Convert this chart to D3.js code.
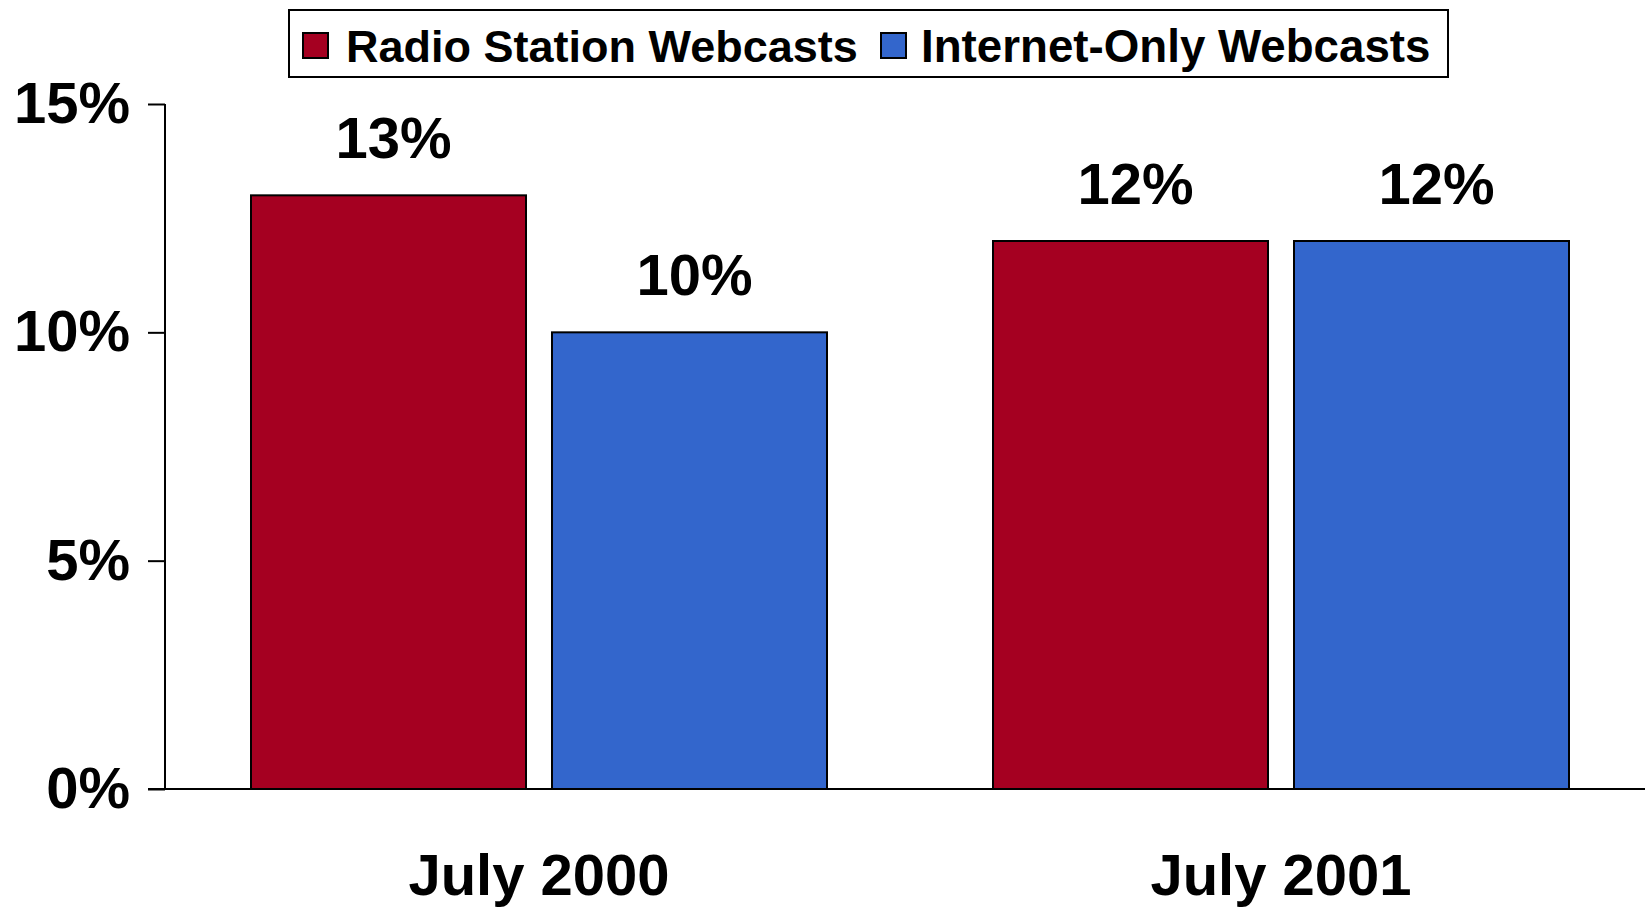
<!DOCTYPE html>
<html>
<head>
<meta charset="utf-8">
<script src="https://cdn.jsdelivr.net/npm/d3@7"></script>
<style>
  html, body { margin: 0; padding: 0; background: #fff; }
  svg { display: block; font-family: "Liberation Sans", Arial, sans-serif; font-weight: bold; }
</style>
</head>
<body>
<svg id="chart" width="1645" height="908"></svg>
<script>
// Share of respondents listening to webcasts
const categories = ["July 2000", "July 2001"];
const seriesNames = ["Radio Station Webcasts", "Internet-Only Webcasts"];
const radioStation = [13, 12];
const internetOnly = [10, 12];
const yTicks = [0, 5, 10, 15];
const colors = ["#A50021", "#3366CC"];

const rows = categories.map((c, i) => ({ category: c, values: [radioStation[i], internetOnly[i]] }));

const svg = d3.select("#chart");

const y = d3.scaleLinear().domain([0, 15]).range([789, 104]);
const x0 = d3.scaleBand().domain(categories).range([168, 1652]).paddingInner(0).paddingOuter(0);
const x1 = d3.scaleBand().domain(seriesNames).range([83, 659]).paddingInner(26 / 301).paddingOuter(0);

// Bars
const groups = svg.append("g").selectAll("g")
  .data(rows).join("g")
  .attr("transform", d => `translate(${x0(d.category)},0)`);

groups.selectAll("rect")
  .data(d => d.values.map((v, i) => ({ series: seriesNames[i], value: v, i })))
  .join("rect")
  .attr("x", d => x1(d.series))
  .attr("width", x1.bandwidth())
  .attr("y", d => y(d.value))
  .attr("height", d => y(0) - y(d.value))
  .attr("fill", d => colors[d.i])
  .attr("stroke", "#000")
  .attr("stroke-width", 2);

// Value labels above each bar
groups.selectAll("text.value")
  .data(d => d.values.map((v, i) => ({ series: seriesNames[i], value: v })))
  .join("text")
  .attr("class", "value")
  .attr("x", d => x1(d.series) + x1.bandwidth() / 2 + 5)
  .attr("y", d => y(d.value) - 37)
  .attr("text-anchor", "middle")
  .attr("font-size", 58)
  .attr("fill", "#000")
  .text(d => d.value + "%");

// Y axis
const yAxis = d3.axisLeft(y).tickValues(yTicks).tickFormat(d => d + "%").tickSize(17).tickPadding(18);
const gy = svg.append("g").attr("transform", "translate(165,0)").call(yAxis);
gy.select(".domain").attr("stroke", "#000").attr("stroke-width", 2).attr("d", `M0,${y(15)}V${y(0)}`);
gy.selectAll(".tick line").attr("stroke", "#000").attr("stroke-width", 2);
gy.selectAll(".tick text")
  .attr("font-size", 58).attr("font-family", "Liberation Sans, Arial, sans-serif")
  .attr("font-weight", "bold").attr("fill", "#000").attr("dy", "0.32em");

// X axis baseline and category labels
const xAxis = d3.axisBottom(x0).tickSize(0).tickPadding(65);
const gx = svg.append("g").attr("transform", `translate(0,${y(0)})`).call(xAxis);
gx.select(".domain").attr("stroke", "#000").attr("stroke-width", 2).attr("d", "M148,0H1645");
gx.selectAll(".tick text")
  .attr("font-size", 58).attr("font-family", "Liberation Sans, Arial, sans-serif")
  .attr("font-weight", "bold").attr("fill", "#000").attr("dy", "0.71em");

// Legend
const legend = svg.append("g");
legend.append("rect")
  .attr("x", 289).attr("y", 10).attr("width", 1159).attr("height", 67)
  .attr("fill", "#fff").attr("stroke", "#000").attr("stroke-width", 2);
const legendItems = [
  { name: seriesNames[0], swatchX: 303, textX: 346, size: 45 },
  { name: seriesNames[1], swatchX: 881, textX: 921, size: 45.7 }
];
legendItems.forEach((it, i) => {
  legend.append("rect")
    .attr("x", it.swatchX).attr("y", 33).attr("width", 25).attr("height", 25)
    .attr("fill", colors[i]).attr("stroke", "#000").attr("stroke-width", 2);
  legend.append("text")
    .attr("x", it.textX).attr("y", 62)
    .attr("font-size", it.size).attr("fill", "#000")
    .text(it.name);
});
</script>
</body>
</html>
